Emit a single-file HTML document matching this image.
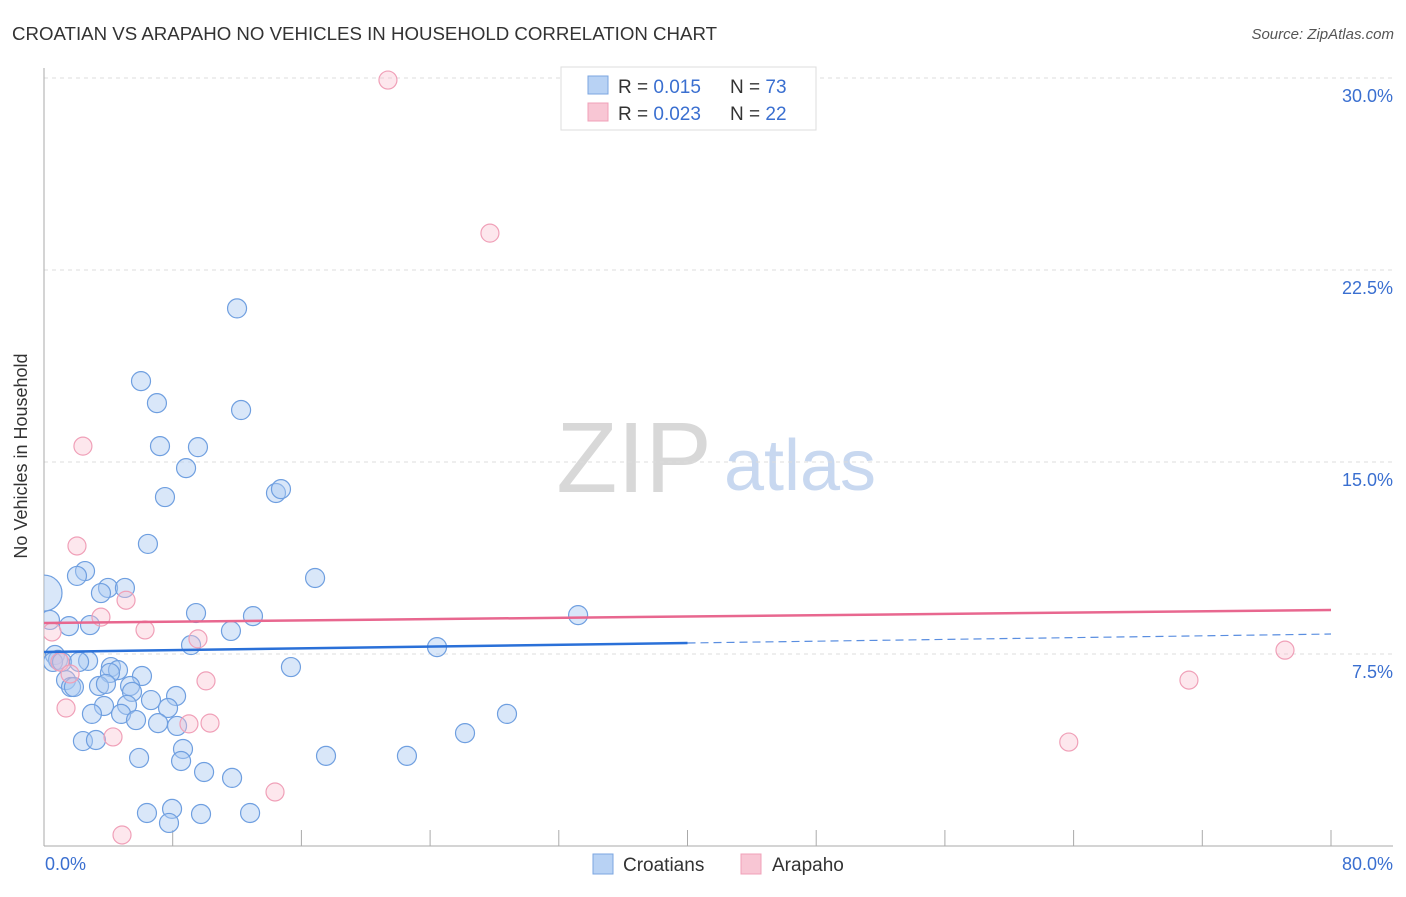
<!DOCTYPE html>
<html><head><meta charset="utf-8"><style>
body{margin:0;background:#fff;font-family:"Liberation Sans",sans-serif}
svg text{font-family:"Liberation Sans",sans-serif}
</style></head><body>
<svg id="chart" width="1406" height="892" viewBox="0 0 1406 892" xmlns="http://www.w3.org/2000/svg">
<defs><clipPath id="plotclip"><rect x="44" y="60" width="1360" height="786"/></clipPath></defs>
<text x="12" y="40" font-size="18" fill="#333" textLength="705" lengthAdjust="spacingAndGlyphs">CROATIAN VS ARAPAHO NO VEHICLES IN HOUSEHOLD CORRELATION CHART</text>
<text x="1394" y="39" font-size="15" fill="#555" font-style="italic" text-anchor="end">Source: ZipAtlas.com</text>
<text x="634" y="492" font-size="100" fill="#d8d8d8" font-family="Liberation Serif" text-anchor="middle">ZIP</text>
<text x="800" y="490" font-size="72" fill="#c8d8f0" text-anchor="middle">atlas</text>
<g id="grid"></g>
<g id="axes"></g>
<g id="pts" clip-path="url(#plotclip)"></g>
<g id="trend"></g>
<text x="27" y="456" font-size="18" fill="#333" text-anchor="middle" transform="rotate(-90 27 456)">No Vehicles in Household</text>
<text x="45" y="870" font-size="18" fill="#3a6fd0">0.0%</text>
<text x="1393" y="870" font-size="18" fill="#3a6fd0" text-anchor="end">80.0%</text>
<g>
<rect x="561" y="67" width="255" height="63" fill="#fff" stroke="#ddd"/>
<rect x="588" y="76" width="20" height="18" fill="#b8d2f4" stroke="#7ba6e0"/>
<rect x="588" y="103" width="20" height="18" fill="#f8c6d4" stroke="#f0a0b8"/>
<text x="618" y="93" font-size="19" fill="#333">R = <tspan fill="#3a6fd0">0.015</tspan><tspan x="730">N = </tspan><tspan fill="#3a6fd0">73</tspan></text>
<text x="618" y="120" font-size="19" fill="#333">R = <tspan fill="#3a6fd0">0.023</tspan><tspan x="730">N = </tspan><tspan fill="#3a6fd0">22</tspan></text>
</g>
<g>
<rect x="593" y="854" width="20" height="20" fill="#b8d2f4" stroke="#7ba6e0"/>
<text x="623" y="871" font-size="19" fill="#333">Croatians</text>
<rect x="741" y="854" width="20" height="20" fill="#f8c6d4" stroke="#f0a0b8"/>
<text x="772" y="871" font-size="19" fill="#333">Arapaho</text>
</g>
</svg>
<script>
const yTicks=[7.5,15,22.5,30];
const yTickLabels=["7.5%","15.0%","22.5%","30.0%"];
const xTicks=[0,8,16,24,32,40,48,56,64,72,80];
const blueX=[12.0,6.03,7.02,12.25,7.21,9.57,8.83,7.52,14.42,14.73,6.46,2.55,2.05,3.98,5.03,3.54,16.85,9.45,12.99,33.2,0.37,1.55,2.86,11.62,9.14,24.43,0.68,0.87,0.56,1.12,2.74,2.18,15.35,4.16,4.6,4.1,6.09,1.37,1.68,1.86,3.42,3.85,5.35,5.47,6.65,5.16,3.73,8.21,7.71,2.98,4.79,5.72,7.09,8.27,28.78,26.17,2.42,3.23,8.64,8.52,5.91,17.53,22.56,9.95,11.69,6.4,7.96,9.76,12.81,7.77,0];
const blueY=[21.0,18.16,17.3,17.03,15.62,15.58,14.76,13.63,13.79,13.94,11.8,10.74,10.55,10.08,10.08,9.88,10.47,9.1,8.98,9.02,8.83,8.59,8.63,8.4,7.85,7.77,7.46,7.27,7.19,7.19,7.23,7.19,6.99,6.99,6.87,6.76,6.64,6.48,6.21,6.21,6.25,6.33,6.25,6.02,5.7,5.51,5.47,5.86,5.39,5.16,5.16,4.92,4.8,4.69,5.16,4.41,4.1,4.14,3.79,3.32,3.44,3.52,3.52,2.89,2.66,1.29,1.45,1.25,1.29,0.9,9.88];
const pinkX=[21.38,27.72,2.42,2.05,5.1,3.54,6.28,0.5,9.57,0.99,1.62,10.07,1.37,9.01,10.32,4.29,14.36,4.85,71.17,63.7,77.14];
const pinkY=[29.92,23.94,15.62,11.72,9.6,8.94,8.44,8.36,8.09,7.19,6.72,6.45,5.39,4.77,4.8,4.26,2.11,0.43,6.48,4.06,7.65];
const blueTrend=[7.58,8.28];
const pinkTrend=[8.71,9.22];
const NS="http://www.w3.org/2000/svg";
const X0=44,X1=1331,Y0=846,PXY=192/7.5;
const sx=v=>X0+(v/80)*(X1-X0);
const sy=v=>Y0-v*PXY;
function mk(tag,attrs,parent){const e=document.createElementNS(NS,tag);for(const k in attrs)e.setAttribute(k,attrs[k]);parent.appendChild(e);return e;}
const grid=document.getElementById('grid'),axes=document.getElementById('axes'),pts=document.getElementById('pts'),trend=document.getElementById('trend');
yTicks.forEach((t,i)=>{
 const l=mk('line',{x1:X0,x2:1393,y1:sy(t),y2:sy(t),stroke:'#ddd','stroke-dasharray':'4,4'},grid);
 
 
 const tx=mk('text',{x:1393,y:sy(t)+24,'font-size':18,fill:'#3a6fd0','text-anchor':'end'},axes);
 tx.textContent=yTickLabels[i];
 
 
});
mk('line',{x1:X0,x2:X0,y1:68,y2:Y0,stroke:'#aaa'},axes);
mk('line',{x1:X0,x2:1393,y1:Y0,y2:Y0,stroke:'#aaa'},axes);
xTicks.forEach(t=>{
 const l=mk('line',{x1:sx(t),x2:sx(t),y1:Y0,y2:Y0-16,stroke:'#aaa'},axes);
 
 
});
blueX.forEach((x,i)=>{
 const big=(i===blueX.length-1);
 const c=mk('circle',{cx:sx(x),cy:sy(blueY[i]),r:big?18:9.5,fill:'rgba(170,202,242,0.45)',stroke:'#6f9fe0','stroke-width':1.2},pts);
 
 
});
pinkX.forEach((x,i)=>{
 const c=mk('circle',{cx:sx(x),cy:sy(pinkY[i]),r:9,fill:'rgba(250,195,210,0.4)',stroke:'#f0a0b8','stroke-width':1.2},pts);
 
 
});
const bMid=blueTrend[0]+(blueTrend[1]-blueTrend[0])*0.5;
let l1=mk('line',{x1:sx(0),y1:sy(blueTrend[0]),x2:sx(40),y2:sy(bMid),stroke:'#2a70d8','stroke-width':2.5},trend);


let l2=mk('line',{x1:sx(40),y1:sy(bMid),x2:sx(80),y2:sy(blueTrend[1]),stroke:'#5a8ee0','stroke-width':1.2,'stroke-dasharray':'8,5'},trend);


let l3=mk('line',{x1:sx(0),y1:sy(pinkTrend[0]),x2:sx(80),y2:sy(pinkTrend[1]),stroke:'#e8678f','stroke-width':2.5},trend);


</script>
</body></html>
